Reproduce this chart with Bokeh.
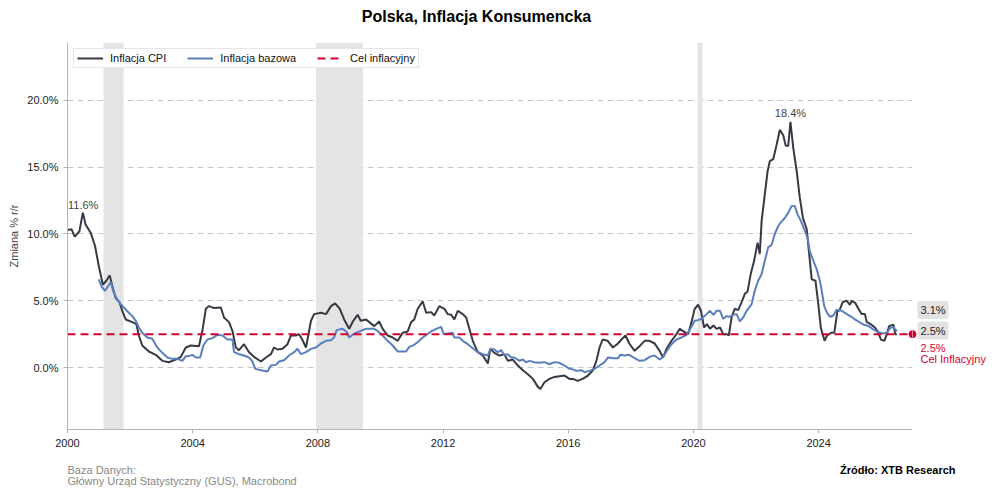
from bokeh.plotting import figure
from bokeh.layouts import column, row
from bokeh.models import (Range1d, FixedTicker, PrintfTickFormatter, Label, Legend,
                          LegendItem, BoxAnnotation)
from bokeh.embed import file_html
from bokeh.resources import INLINE

# ---------------- data ----------------
cpi_t = [2000.00, 2000.13, 2000.23, 2000.38, 2000.49, 2000.58, 2000.74, 2000.88, 2001.00, 2001.13,
         2001.24, 2001.35, 2001.43, 2001.54, 2001.66, 2001.75, 2001.86, 2002.07, 2002.20, 2002.28,
         2002.39, 2002.60, 2002.82, 2003.03, 2003.24, 2003.46, 2003.62, 2003.78, 2003.94, 2004.20,
         2004.31, 2004.42, 2004.52, 2004.68, 2004.90, 2005.00, 2005.16, 2005.27, 2005.38, 2005.48,
         2005.64, 2005.80, 2005.96, 2006.18, 2006.34, 2006.50, 2006.60, 2006.71, 2006.87, 2007.03,
         2007.14, 2007.30, 2007.40, 2007.50, 2007.62, 2007.78, 2007.88, 2008.10, 2008.26, 2008.42,
         2008.55, 2008.70, 2008.84, 2009.00, 2009.13, 2009.27, 2009.37, 2009.54, 2009.64, 2009.80,
         2009.96, 2010.07, 2010.23, 2010.39, 2010.55, 2010.71, 2010.87, 2010.98, 2011.08, 2011.19,
         2011.35, 2011.46, 2011.62, 2011.72, 2011.88, 2012.04, 2012.15, 2012.26, 2012.36, 2012.47,
         2012.63, 2012.74, 2012.84, 2012.95, 2013.11, 2013.27, 2013.43, 2013.51, 2013.64, 2013.80,
         2013.96, 2014.07, 2014.23, 2014.39, 2014.55, 2014.71, 2014.87, 2015.03, 2015.11, 2015.24,
         2015.40, 2015.56, 2015.72, 2015.88, 2016.04, 2016.15, 2016.30, 2016.46, 2016.63, 2016.79,
         2016.90, 2017.00, 2017.10, 2017.26, 2017.43, 2017.59, 2017.70, 2017.83, 2017.95, 2018.12,
         2018.28, 2018.44, 2018.60, 2018.76, 2018.92, 2019.03, 2019.14, 2019.30, 2019.46, 2019.56,
         2019.72, 2019.83, 2019.94, 2020.04, 2020.15, 2020.24, 2020.34, 2020.43, 2020.53, 2020.64,
         2020.74, 2020.85, 2020.95, 2021.06, 2021.13, 2021.22, 2021.32, 2021.43, 2021.54, 2021.64,
         2021.73, 2021.83, 2021.94, 2022.05, 2022.12, 2022.18, 2022.28, 2022.37, 2022.44, 2022.55,
         2022.66, 2022.76, 2022.87, 2022.95, 2023.03, 2023.10, 2023.19, 2023.30, 2023.40, 2023.50,
         2023.62, 2023.69, 2023.78, 2023.90, 2023.99, 2024.07, 2024.19, 2024.27, 2024.40, 2024.50,
         2024.60, 2024.67, 2024.77, 2024.90, 2025.00, 2025.06, 2025.17, 2025.27, 2025.38, 2025.48,
         2025.54, 2025.66, 2025.80, 2025.90, 2025.99, 2026.10, 2026.18, 2026.25, 2026.39, 2026.45,
         2026.50]
cpi_v = [10.3, 10.35, 9.8, 10.2, 11.6, 10.7, 10.1, 9.1, 7.6, 6.2,
         6.5, 6.9, 6.1, 5.2, 4.9, 4.25, 3.6, 3.4, 3.25, 2.4,
         1.65, 1.2, 0.95, 0.5, 0.4, 0.6, 0.8, 1.5, 1.65, 1.6,
         2.75, 4.4, 4.6, 4.45, 4.5, 3.75, 3.4, 2.75, 1.5, 1.3,
         1.75, 1.15, 0.8, 0.45, 0.75, 1.0, 1.5, 1.35, 1.4, 1.75,
         2.4, 2.4, 2.5, 2.1, 1.5, 3.5, 4.0, 4.1, 4.0, 4.6,
         4.8, 4.4, 3.6, 2.9, 3.5, 3.95, 3.5, 3.6, 3.4, 3.1,
         3.45, 2.9, 2.4, 2.25, 2.0, 2.6, 2.7, 3.4, 3.6, 4.4,
         4.95, 4.1, 4.15, 3.9, 4.6, 4.4, 4.0, 3.95, 3.6, 4.25,
         4.0, 3.75, 2.9, 2.0, 1.15, 0.9, 0.3, 1.4, 1.1, 0.9,
         1.0, 0.5, 0.6, 0.15, -0.2, -0.5, -0.85, -1.45, -1.6, -1.1,
         -0.85, -0.7, -0.65, -0.6, -0.85, -0.85, -1.0, -0.85, -0.6, -0.2,
         0.5, 1.5, 2.1, 2.0, 1.5, 1.8, 2.1, 2.4, 1.8, 1.25,
         1.6, 2.0, 2.0, 1.8, 1.25, 0.75, 1.4, 2.0, 2.5, 2.9,
         2.65, 2.5, 3.4, 4.4, 4.7, 4.25, 3.0, 3.25, 2.9, 3.15,
         2.9, 3.0, 2.5, 2.5, 2.4, 3.75, 4.4, 4.3, 4.9, 5.5,
         5.7, 7.0, 8.0, 9.35, 8.5, 11.0, 12.95, 14.7, 15.45, 15.6,
         16.7, 17.8, 17.4, 16.6, 16.6, 18.4, 16.45, 14.7, 12.7, 11.2,
         10.35, 8.7, 6.6, 6.5, 4.75, 3.0, 2.0, 2.4, 2.6, 2.6,
         4.2, 4.3, 4.9, 5.0, 4.7, 5.0, 4.85, 4.4, 4.0, 4.0,
         3.4, 3.25, 3.0, 2.65, 2.1, 2.0, 2.5, 3.1, 3.2, 2.5,
         2.5]

core_t = [2001.00, 2001.09, 2001.20, 2001.30, 2001.38, 2001.48, 2001.59, 2001.70, 2001.80, 2001.96,
          2002.07, 2002.18, 2002.28, 2002.39, 2002.55, 2002.71, 2002.87, 2003.03, 2003.19, 2003.35,
          2003.51, 2003.67, 2003.78, 2003.88, 2003.99, 2004.10, 2004.24, 2004.34, 2004.47, 2004.63,
          2004.79, 2004.95, 2005.11, 2005.27, 2005.32, 2005.48, 2005.64, 2005.80, 2005.90, 2006.00,
          2006.18, 2006.39, 2006.50, 2006.66, 2006.76, 2006.92, 2007.08, 2007.24, 2007.35, 2007.46,
          2007.62, 2007.78, 2007.94, 2008.10, 2008.26, 2008.42, 2008.52, 2008.60, 2008.79, 2008.91,
          2009.00, 2009.13, 2009.27, 2009.37, 2009.54, 2009.80, 2009.90, 2010.07, 2010.23, 2010.39,
          2010.55, 2010.82, 2010.92, 2011.08, 2011.24, 2011.35, 2011.50, 2011.62, 2011.78, 2011.94,
          2012.02, 2012.15, 2012.31, 2012.36, 2012.52, 2012.63, 2012.79, 2012.95, 2013.11, 2013.27,
          2013.43, 2013.51, 2013.64, 2013.75, 2013.86, 2013.96, 2014.07, 2014.18, 2014.28, 2014.44,
          2014.55, 2014.65, 2014.76, 2014.92, 2015.08, 2015.24, 2015.40, 2015.56, 2015.72, 2015.88,
          2016.04, 2016.10, 2016.26, 2016.42, 2016.52, 2016.68, 2016.84, 2017.00, 2017.16, 2017.27,
          2017.43, 2017.59, 2017.66, 2017.80, 2017.95, 2018.12, 2018.28, 2018.44, 2018.60, 2018.76,
          2018.92, 2019.03, 2019.14, 2019.30, 2019.46, 2019.62, 2019.78, 2019.94, 2020.04, 2020.15,
          2020.26, 2020.42, 2020.53, 2020.64, 2020.74, 2020.85, 2020.95, 2021.06, 2021.16, 2021.27,
          2021.38, 2021.48, 2021.59, 2021.70, 2021.86, 2021.96, 2022.07, 2022.18, 2022.28, 2022.39,
          2022.50, 2022.60, 2022.71, 2022.82, 2022.92, 2023.03, 2023.14, 2023.24, 2023.33, 2023.44,
          2023.54, 2023.65, 2023.72, 2023.83, 2023.94, 2024.04, 2024.10, 2024.18, 2024.27, 2024.37,
          2024.47, 2024.57, 2024.67, 2024.77, 2024.90, 2025.05, 2025.16, 2025.30, 2025.45, 2025.60,
          2025.75, 2025.90, 2026.05, 2026.18, 2026.30, 2026.40, 2026.50]
core_v = [6.6, 6.05, 5.75, 6.1, 6.4, 5.6, 5.1, 4.75, 4.5, 4.1,
          3.85, 3.5, 3.0, 2.6, 2.25, 2.15, 1.5, 1.1, 0.75, 0.65,
          0.65, 0.5, 0.85, 0.85, 0.95, 0.75, 0.75, 1.65, 2.1, 2.2,
          2.45, 2.4, 2.1, 2.1, 1.15, 1.0, 0.9, 0.75, 0.5, -0.1,
          -0.2, -0.3, 0.15, 0.2, 0.45, 0.55, 0.9, 1.15, 1.4, 1.0,
          1.15, 1.4, 1.5, 1.8, 2.0, 2.05, 2.25, 2.8, 2.9, 2.7,
          2.25, 2.5, 2.65, 2.75, 2.9, 2.9, 2.75, 2.4, 2.0, 1.65,
          1.2, 1.2, 1.55, 1.7, 2.0, 2.25, 2.5, 2.7, 2.9, 3.05,
          2.5, 2.55, 2.6, 2.25, 2.25, 2.0, 1.75, 1.45, 1.15, 1.0,
          0.9, 1.4, 1.35, 1.15, 1.3, 0.9, 1.0, 0.75, 0.75, 0.5,
          0.6, 0.4, 0.5, 0.4, 0.35, 0.4, 0.25, 0.4, 0.35, 0.15,
          -0.1, -0.1, -0.25, -0.2, -0.35, -0.25, -0.1, 0.15, 0.4, 0.75,
          0.7, 0.7, 0.95, 0.9, 0.95, 0.7, 0.5, 0.55, 0.8, 0.9,
          0.6, 0.8, 1.2, 1.75, 2.1, 2.25, 2.45, 3.05, 3.5, 3.55,
          3.65, 4.0, 4.25, 3.95, 4.25, 4.25, 3.65, 3.85, 3.8, 3.95,
          4.0, 3.45, 3.75, 4.25, 4.75, 5.75, 6.5, 7.0, 8.0, 9.0,
          9.2, 10.0, 10.6, 10.95, 11.2, 11.6, 12.1, 12.1, 11.45, 10.95,
          10.35, 9.7, 8.7, 8.0, 7.35, 6.5, 5.75, 4.6, 4.1, 3.8,
          3.9, 4.3, 4.3, 4.2, 4.0, 3.8, 3.6, 3.4, 3.2, 3.1,
          2.85, 2.65, 2.55, 2.6, 3.0, 3.0, 2.7]

target = 2.5
recession_start = [2001.15, 2007.94, 2020.13]
recession_end = [2001.79, 2009.44, 2020.29]
x_ticks = [2000, 2004, 2008, 2012, 2016, 2020, 2024]
y_ticks = [0, 5, 10, 15, 20]
x_lo, x_hi = 2000, 2027
y_lo, y_hi = -4.64, 24.34

title_text = "Polska, Inflacja Konsumencka"
source_left = ["Baza Danych:", "Główny Urząd Statystyczny (GUS), Macrobond"]
source_right = "Źródło: XTB Research"

FONT = "Liberation Sans"
CPI_COL = "#363a44"
CORE_COL = "#5b7fbe"
RED = "#d3002f"

W, H = 996, 496
TOP_H, FOOT_H, RIGHT_W = 42, 41, 84
MID_H = H - TOP_H - FOOT_H        # 413
AXIS_B = 26                        # room for the x-axis below the frame

# ---------------- main plot ----------------
p = figure(width=W - RIGHT_W, height=MID_H, output_backend="svg", toolbar_location=None,
           x_range=Range1d(x_lo, x_hi), y_range=Range1d(y_lo, y_hi),
           min_border_left=67, min_border_right=0, min_border_top=0, min_border_bottom=AXIS_B)
p.outline_line_color = None
p.background_fill_color = "white"
p.border_fill_color = "white"

for s, e in zip(recession_start, recession_end):
    p.add_layout(BoxAnnotation(left=s, right=e, fill_color="#e4e4e4", fill_alpha=1.0,
                               line_color=None, level="underlay"))

p.xgrid.visible = False
p.ygrid.grid_line_color = "#c8c8c8"
p.ygrid.grid_line_dash = "6 4"
p.ygrid.grid_line_width = 1
p.ygrid.level = "underlay"

r_cpi = p.line(cpi_t, cpi_v, line_color=CPI_COL, line_width=2)
r_core = p.line(core_t, core_v, line_color=CORE_COL, line_width=2)
r_tgt = p.line([x_lo, x_hi], [target, target], line_color=RED, line_width=2, line_dash="8 5")
p.scatter([x_hi], [target], size=7, color=RED)

for ax in (p.xaxis, p.yaxis):
    ax.axis_line_color = "#b5b5b5"
    ax.major_tick_line_color = "#b5b5b5"
    ax.major_tick_out = 4
    ax.major_tick_in = 0
    ax.minor_tick_line_color = None
    ax.major_label_text_font = FONT
    ax.major_label_text_font_size = "11px"
    ax.major_label_text_color = "#222222"

p.xaxis.ticker = FixedTicker(ticks=x_ticks)
p.yaxis.ticker = FixedTicker(ticks=y_ticks)
p.yaxis.formatter = PrintfTickFormatter(format="%.1f%%")
p.yaxis.axis_label = "Zmiana % r/r"
p.yaxis.axis_label_text_font = FONT
p.yaxis.axis_label_text_font_size = "11px"
p.yaxis.axis_label_text_font_style = "normal"
p.yaxis.axis_label_text_color = "#444444"
p.yaxis.axis_label_standoff = 4

legend = Legend(items=[LegendItem(label="Inflacja CPI", renderers=[r_cpi]),
                       LegendItem(label="Inflacja bazowa", renderers=[r_core]),
                       LegendItem(label="Cel inflacyjny", renderers=[r_tgt])],
                location="top_left", orientation="horizontal")
legend.label_text_font = FONT
legend.label_text_font_size = "11px"
legend.label_text_color = "#111111"
legend.glyph_width = 26
legend.glyph_height = 12
legend.label_standoff = 7
legend.spacing = 21
legend.padding = 3
legend.margin = 6
legend.border_line_color = "#cccccc"
legend.border_line_width = 1
legend.background_fill_alpha = 1.0
p.add_layout(legend)


def lab(fig, x, y, text, **kw):
    opts = dict(text_font=FONT, text_font_size="11px", text_color="#444444",
                text_align="left", text_baseline="middle")
    opts.update(kw)
    fig.add_layout(Label(x=x, y=y, text=text, **opts))


lab(p, 2000.5, 12.2, "11.6%", text_align="center")
lab(p, 2023.1, 19.03, "18.4%", text_align="center")


def text_fig(w, h, y_range=None, **kw):
    f = figure(width=w, height=h, output_backend="svg", toolbar_location=None,
               x_range=Range1d(0, w), y_range=y_range if y_range is not None else Range1d(h, 0),
               x_axis_type=None, y_axis_type=None, **kw)
    f.outline_line_color = None
    f.background_fill_color = "white"
    f.border_fill_color = "white"
    return f


# ---------------- title strip ----------------
top = text_fig(W, TOP_H, min_border=0)
lab(top, 476, 16, title_text, text_font_size="16px", text_font_style="bold",
    text_color="#000000", text_align="center")

# ---------------- right strip (shares y scale with main plot) ----------------
side = text_fig(RIGHT_W, MID_H, y_range=p.y_range, min_border_left=0, min_border_right=0,
                min_border_top=0, min_border_bottom=AXIS_B)
side.scatter([0], [target], size=7, color=RED)
for yy, txt in ((4.31, "3.1%"), (2.77, "2.5%")):
    side.add_layout(Label(x=5, y=yy, text=txt, text_font=FONT, text_font_size="11px",
                          text_color="#222222", text_baseline="middle",
                          background_fill_color="#e2e2e2", padding=3, border_radius=3))
lab(side, 8, 1.5, "2.5%", text_color=RED)
lab(side, 8, 0.67, "Cel Inflacyjny", text_color=RED)

# ---------------- footer strip ----------------
foot = text_fig(W, FOOT_H, min_border=0)
lab(foot, 67, 14, source_left[0], text_color="#888888")
lab(foot, 67, 25, source_left[1], text_color="#888888")
lab(foot, 955, 14, source_right, text_color="#000000", text_font_style="bold", text_align="right")

layout = column(top, row(p, side, spacing=0), foot, spacing=0)

open("out.html", "w").write(file_html(layout, INLINE))
